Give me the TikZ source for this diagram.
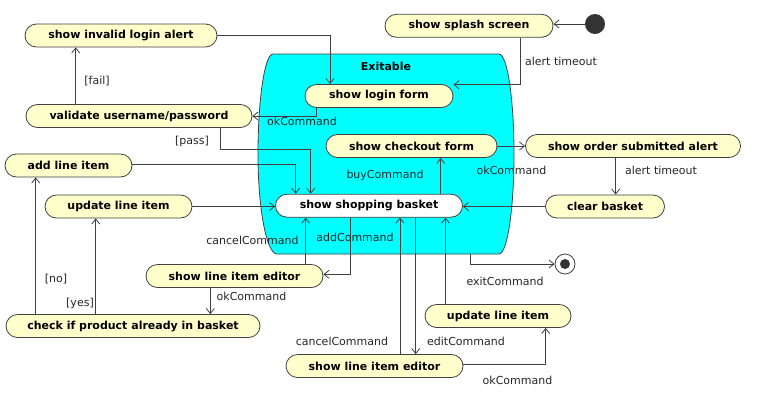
\documentclass[tikz,border=0pt]{standalone}
\usepackage{fontspec}
\setmainfont{DejaVu Sans}
\usetikzlibrary{arrows.meta}
\definecolor{pillfill}{RGB}{255,255,204}
\definecolor{linec}{RGB}{64,64,64}
\definecolor{exitfill}{RGB}{0,255,255}
\definecolor{dotc}{RGB}{51,51,51}
\begin{document}
\begin{tikzpicture}[x=1pt,y=-1pt,
  font=\fontsize{11}{13}\selectfont,
  pill/.style={draw=linec, line width=0.8pt, fill=pillfill, rounded corners=11.5pt,
    minimum height=23pt, inner sep=0pt, font=\fontsize{11}{13}\selectfont\bfseries},
  whitepill/.style={pill, fill=white},
  lbl/.style={inner sep=0pt, text=black!85},
  arr/.style={draw=linec, line width=0.8pt, -{Straight Barb[length=5pt,width=8pt]}},
  exitable/.style={draw=linec, line width=0.8pt, fill=exitfill}]
\path[use as bounding box, fill=white] (0,0) rectangle (768,408);

% container
\draw[exitable] (273,54) -- (499,54)
  .. controls (507.3,54) and (514,99) .. (514,154)
  .. controls (514,209) and (507.3,254) .. (499,254)
  -- (277,254)
  .. controls (266.6,254) and (258,209) .. (258,154)
  .. controls (258,99) and (264.7,54) .. (273,54) -- cycle;
\node[inner sep=0pt, font=\fontsize{11}{13}\selectfont\bfseries] (exlbl) at (386,66) {Exitable};
\coordinate (exitb) at (470.7,254);

% states
\node[pill, minimum width=192pt] (inval) at (121,35.5) {show invalid login alert};
\node[pill, minimum width=226pt] (valid) at (139,116) {validate username/password};
\node[pill, minimum width=127pt] (addli) at (68.5,165.5) {add line item};
\node[pill, minimum width=147pt] (updl) at (118.5,206.5) {update line item};
\node[pill, minimum width=177pt] (edl) at (234.5,276) {show line item editor};
\node[pill, minimum width=254pt] (check) at (133,326) {check if product already in basket};
\node[pill, minimum width=177pt] (edb) at (374.5,366) {show line item editor};
\node[pill, minimum width=146pt] (updr) at (498,316) {update line item};
\node[whitepill, minimum width=187pt] (basket) at (369,205.7) {show shopping basket};
\node[pill, minimum width=171pt] (checkout) at (411.5,146) {show checkout form};
\node[pill, minimum width=148pt] (login) at (379,96) {show login form};
\node[pill, minimum width=168pt] (splash) at (469,25.8) {show splash screen};
\node[pill, minimum width=215pt] (order) at (633,146) {show order submitted alert};
\node[pill, minimum width=119pt] (clear) at (605,206.5) {clear basket};
\node[circle, fill=dotc, minimum size=20pt, inner sep=0pt] (init) at (595,24) {};
\node[circle, draw=linec, line width=0.8pt, fill=white, minimum size=20pt, inner sep=0pt] (final) at (565,264) {};
\node[circle, fill=dotc, minimum size=10pt, inner sep=0pt] (finaldot) at (565,264) {};

% connectors
\draw[arr] (init.west) -- (init.west -| splash.east);
\draw[arr] ([xshift=51.7pt]splash.south) |- ([yshift=11.3pt]login.east);
\draw[arr] (inval.east) -| ([xshift=-49pt]login.north);
\draw[arr] ([xshift=-63pt]login.south) |- (valid.east);
\draw[arr] ([xshift=-63.3pt]valid.north) -- ([xshift=-45.3pt]inval.south);
\draw[arr] ([xshift=81.7pt]valid.south) -- ++(0,21.3) -| ([xshift=-58.3pt]basket.north);
\draw[arr] ([yshift=1.2pt]addli.east) -| ([xshift=-73.3pt]basket.north);
\draw[arr] (updl.east) -- (updl.east -| basket.west);
\draw[arr] ([xshift=-97.3pt]check.north) -- ([xshift=-32.8pt]addli.south);
\draw[arr] ([xshift=-37.3pt]check.north) -- ([xshift=-22.8pt]updl.south);
\draw[arr] ([xshift=-24.2pt]edl.south) -- ([xshift=77.3pt]check.north);
\draw[arr] ([xshift=71.2pt]edl.north) -- ([xshift=-63.3pt]basket.south);
\draw[arr] ([xshift=-18.3pt]basket.south) |- ([yshift=1.7pt]edl.east);
\draw[arr] ([xshift=71.7pt]basket.north) -- ([xshift=29.2pt]checkout.south);
\draw[arr] (checkout.east) -- (order.west);
\draw[arr] ([xshift=-17.3pt]order.south) -- ([xshift=10.7pt]clear.north);
\draw[arr] (clear.west) -- (clear.west -| basket.east);
\draw[arr] (exitb) |- (final.west);
\draw[arr] ([xshift=25.5pt]edb.north) -- ([xshift=31pt]basket.south);
\draw[arr] ([xshift=46.7pt]basket.south) -- ([xshift=41.2pt]edb.north);
\draw[arr] ([xshift=-52.5pt]updr.north) -- ([xshift=76.5pt]basket.south);
\draw[arr] ([yshift=1.7pt]edb.east) -| ([xshift=47.7pt]updr.south);

% labels
\node[lbl] (l1) at (561,61) {alert timeout};
\node[lbl] (l2) at (302,121) {okCommand};
\node[lbl] (l3) at (97,81) {[fail]};
\node[lbl] (l4) at (192,141) {[pass]};
\node[lbl] (l5) at (56,279) {[no]};
\node[lbl] (l6) at (80,303) {[yes]};
\node[lbl] (l7) at (251.5,296) {okCommand};
\node[lbl] (l8) at (252.5,240) {cancelCommand};
\node[lbl] (l9) at (355,237) {addCommand};
\node[lbl] (l10) at (385,175) {buyCommand};
\node[lbl] (l11) at (511.5,170) {okCommand};
\node[lbl] (l12) at (661,170) {alert timeout};
\node[lbl] (l13) at (505,281) {exitCommand};
\node[lbl] (l14) at (342,341) {cancelCommand};
\node[lbl] (l15) at (466,341) {editCommand};
\node[lbl] (l16) at (517.5,380) {okCommand};
\end{tikzpicture}
\end{document}
